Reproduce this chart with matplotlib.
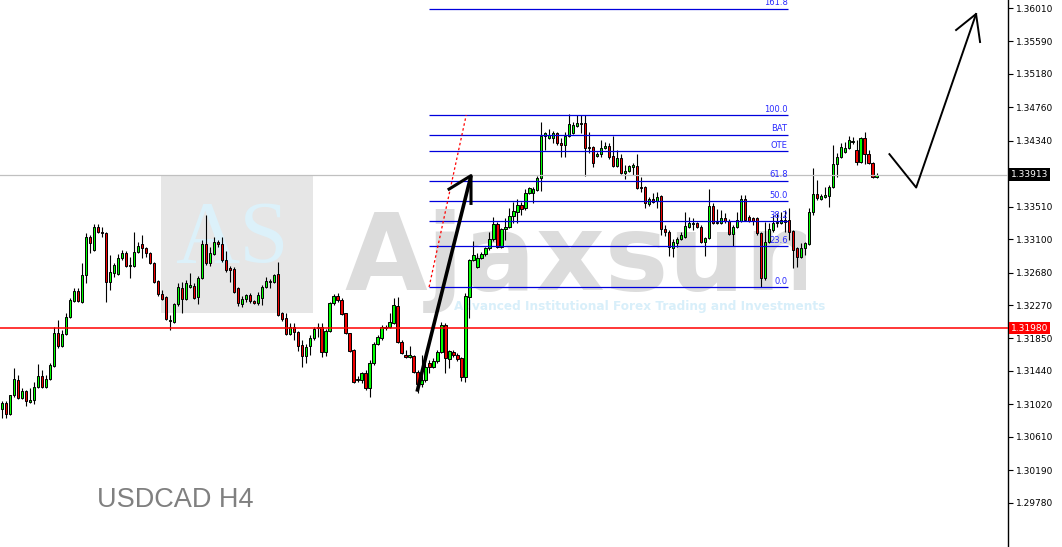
import numpy as np
import matplotlib.pyplot as plt
from matplotlib.patches import Rectangle
from matplotlib.transforms import Bbox, TransformedBbox, blended_transform_factory

# USDCAD H4 candles
opens = [1.3096, 1.3104, 1.3090, 1.3114, 1.3133, 1.3110, 1.3119, 1.3105, 1.3108, 1.3124,
         1.3138, 1.3124, 1.3134, 1.3150, 1.3192, 1.3176, 1.3191, 1.3212, 1.3232, 1.3245,
         1.3231, 1.3265, 1.3313, 1.3296, 1.3325, 1.3319, 1.3318, 1.3256, 1.3267, 1.3266,
         1.3286, 1.3293, 1.3276, 1.3276, 1.3294, 1.3304, 1.3299, 1.3293, 1.3280, 1.3257,
         1.3241, 1.3237, 1.3207, 1.3206, 1.3228, 1.3249, 1.3235, 1.3250, 1.3251, 1.3237,
         1.3261, 1.3304, 1.3280, 1.3291, 1.3306, 1.3304, 1.3284, 1.3274, 1.3273, 1.3249,
         1.3228, 1.3235, 1.3240, 1.3232, 1.3230, 1.3236, 1.3250, 1.3256, 1.3256, 1.3266,
         1.3217, 1.3211, 1.3191, 1.3199, 1.3193, 1.3177, 1.3163, 1.3176, 1.3186, 1.3198,
         1.3199, 1.3168, 1.3194, 1.3230, 1.3238, 1.3233, 1.3217, 1.3192, 1.3170, 1.3133,
         1.3133, 1.3142, 1.3123, 1.3154, 1.3178, 1.3186, 1.3198, 1.3199, 1.3204, 1.3226,
         1.3181, 1.3164, 1.3162, 1.3163, 1.3143, 1.3127, 1.3133, 1.3154, 1.3149, 1.3157,
         1.3168, 1.3202, 1.3159, 1.3168, 1.3164, 1.3160, 1.3137, 1.3237, 1.3284, 1.3275,
         1.3286, 1.3291, 1.3299, 1.3310, 1.3329, 1.3300, 1.3323, 1.3325, 1.3339, 1.3344,
         1.3353, 1.3349, 1.3368, 1.3368, 1.3372, 1.3387, 1.3440, 1.3437, 1.3437, 1.3444,
         1.3431, 1.3429, 1.3440, 1.3444, 1.3452, 1.3455, 1.3456, 1.3425, 1.3426, 1.3415,
         1.3417, 1.3425, 1.3427, 1.3415, 1.3402, 1.3412, 1.3393, 1.3396, 1.3401, 1.3402,
         1.3376, 1.3376, 1.3354, 1.3361, 1.3358, 1.3364, 1.3323, 1.3319, 1.3299, 1.3305,
         1.3310, 1.3313, 1.3325, 1.3329, 1.3330, 1.3325, 1.3306, 1.3312, 1.3352, 1.3330,
         1.3330, 1.3337, 1.3333, 1.3317, 1.3325, 1.3333, 1.3361, 1.3338, 1.3337, 1.3337,
         1.3318, 1.3261, 1.3306, 1.3322, 1.3330, 1.3330, 1.3332, 1.3334, 1.3320, 1.3299,
         1.3288, 1.3299, 1.3304, 1.3344, 1.3367, 1.3361, 1.3363, 1.3364, 1.3376, 1.3405,
         1.3413, 1.3420, 1.3425, 1.3432, 1.3422, 1.3407, 1.3437, 1.3417, 1.3406, 1.3388]
highs = [1.3106, 1.3106, 1.3114, 1.3148, 1.3139, 1.3122, 1.3120, 1.3123, 1.3130, 1.3153,
         1.3145, 1.3139, 1.3154, 1.3199, 1.3208, 1.3196, 1.3217, 1.3236, 1.3249, 1.3249,
         1.3280, 1.3318, 1.3315, 1.3329, 1.3329, 1.3325, 1.3319, 1.3290, 1.3280, 1.3291,
         1.3296, 1.3295, 1.3288, 1.3319, 1.3306, 1.3315, 1.3300, 1.3294, 1.3281, 1.3259,
         1.3246, 1.3238, 1.3215, 1.3230, 1.3255, 1.3256, 1.3259, 1.3267, 1.3255, 1.3264,
         1.3309, 1.3340, 1.3300, 1.3313, 1.3309, 1.3313, 1.3295, 1.3276, 1.3275, 1.3250,
         1.3238, 1.3241, 1.3242, 1.3233, 1.3243, 1.3252, 1.3262, 1.3260, 1.3266, 1.3281,
         1.3218, 1.3217, 1.3204, 1.3204, 1.3194, 1.3183, 1.3178, 1.3189, 1.3199, 1.3204,
         1.3204, 1.3197, 1.3231, 1.3241, 1.3242, 1.3236, 1.3217, 1.3192, 1.3172, 1.3138,
         1.3143, 1.3145, 1.3158, 1.3181, 1.3189, 1.3202, 1.3202, 1.3217, 1.3236, 1.3237,
         1.3183, 1.3170, 1.3176, 1.3164, 1.3145, 1.3164, 1.3162, 1.3158, 1.3160, 1.3170,
         1.3206, 1.3204, 1.3170, 1.3170, 1.3167, 1.3162, 1.3242, 1.3285, 1.3308, 1.3293,
         1.3294, 1.3300, 1.3319, 1.3338, 1.3332, 1.3324, 1.3337, 1.3349, 1.3357, 1.3361,
         1.3357, 1.3373, 1.3376, 1.3376, 1.3390, 1.3457, 1.3445, 1.3449, 1.3446, 1.3445,
         1.3437, 1.3445, 1.3468, 1.3457, 1.3466, 1.3466, 1.3466, 1.3445, 1.3427, 1.3420,
         1.3435, 1.3432, 1.3431, 1.3440, 1.3422, 1.3417, 1.3403, 1.3403, 1.3406, 1.3417,
         1.3388, 1.3377, 1.3363, 1.3368, 1.3369, 1.3366, 1.3328, 1.3322, 1.3310, 1.3313,
         1.3319, 1.3344, 1.3338, 1.3337, 1.3332, 1.3328, 1.3313, 1.3373, 1.3355, 1.3348,
         1.3347, 1.3343, 1.3335, 1.3328, 1.3344, 1.3366, 1.3366, 1.3340, 1.3338, 1.3338,
         1.3319, 1.3332, 1.3330, 1.3340, 1.3343, 1.3344, 1.3347, 1.3349, 1.3322, 1.3300,
         1.3305, 1.3306, 1.3349, 1.3400, 1.3385, 1.3367, 1.3376, 1.3378, 1.3429, 1.3418,
         1.3431, 1.3432, 1.3440, 1.3439, 1.3435, 1.3439, 1.3445, 1.3422, 1.3407, 1.3393]
lows = [1.3085, 1.3085, 1.3088, 1.3111, 1.3109, 1.3109, 1.3100, 1.3104, 1.3103, 1.3122,
        1.3123, 1.3123, 1.3133, 1.3149, 1.3173, 1.3174, 1.3189, 1.3211, 1.3231, 1.3231,
        1.3230, 1.3255, 1.3293, 1.3295, 1.3318, 1.3313, 1.3231, 1.3246, 1.3262, 1.3265,
        1.3284, 1.3275, 1.3261, 1.3275, 1.3293, 1.3286, 1.3288, 1.3279, 1.3255, 1.3238,
        1.3233, 1.3208, 1.3196, 1.3204, 1.3226, 1.3217, 1.3233, 1.3249, 1.3235, 1.3228,
        1.3260, 1.3278, 1.3276, 1.3290, 1.3300, 1.3281, 1.3269, 1.3256, 1.3242, 1.3226,
        1.3225, 1.3231, 1.3230, 1.3228, 1.3227, 1.3227, 1.3249, 1.3249, 1.3255, 1.3213,
        1.3207, 1.3189, 1.3189, 1.3183, 1.3169, 1.3149, 1.3154, 1.3164, 1.3183, 1.3187,
        1.3162, 1.3163, 1.3193, 1.3227, 1.3231, 1.3215, 1.3191, 1.3168, 1.3129, 1.3130,
        1.3129, 1.3120, 1.3111, 1.3152, 1.3177, 1.3183, 1.3196, 1.3198, 1.3203, 1.3179,
        1.3165, 1.3160, 1.3160, 1.3142, 1.3116, 1.3124, 1.3130, 1.3142, 1.3148, 1.3154,
        1.3167, 1.3142, 1.3148, 1.3162, 1.3157, 1.3132, 1.3130, 1.3211, 1.3283, 1.3274,
        1.3285, 1.3289, 1.3296, 1.3308, 1.3299, 1.3299, 1.3309, 1.3324, 1.3330, 1.3330,
        1.3340, 1.3347, 1.3367, 1.3355, 1.3371, 1.3371, 1.3422, 1.3436, 1.3431, 1.3429,
        1.3413, 1.3413, 1.3439, 1.3442, 1.3451, 1.3444, 1.3390, 1.3418, 1.3401, 1.3413,
        1.3413, 1.3424, 1.3411, 1.3401, 1.3401, 1.3392, 1.3386, 1.3394, 1.3391, 1.3373,
        1.3369, 1.3349, 1.3352, 1.3355, 1.3349, 1.3315, 1.3314, 1.3289, 1.3288, 1.3300,
        1.3309, 1.3312, 1.3324, 1.3322, 1.3324, 1.3305, 1.3289, 1.3310, 1.3329, 1.3329,
        1.3329, 1.3330, 1.3315, 1.3301, 1.3324, 1.3332, 1.3333, 1.3332, 1.3328, 1.3315,
        1.3250, 1.3259, 1.3305, 1.3319, 1.3325, 1.3329, 1.3319, 1.3309, 1.3274, 1.3275,
        1.3286, 1.3290, 1.3303, 1.3340, 1.3359, 1.3359, 1.3362, 1.3350, 1.3375, 1.3388,
        1.3412, 1.3418, 1.3424, 1.3430, 1.3403, 1.3406, 1.3405, 1.3405, 1.3387, 1.3387]
closes = [1.3104, 1.3090, 1.3114, 1.3134, 1.3110, 1.3119, 1.3106, 1.3108, 1.3124, 1.3138,
          1.3124, 1.3134, 1.3152, 1.3192, 1.3176, 1.3191, 1.3212, 1.3233, 1.3245, 1.3232,
          1.3265, 1.3313, 1.3305, 1.3325, 1.3319, 1.3318, 1.3256, 1.3269, 1.3278, 1.3286,
          1.3293, 1.3276, 1.3278, 1.3294, 1.3301, 1.3299, 1.3293, 1.3280, 1.3256, 1.3241,
          1.3235, 1.3210, 1.3208, 1.3228, 1.3250, 1.3235, 1.3255, 1.3252, 1.3236, 1.3261,
          1.3304, 1.3280, 1.3293, 1.3306, 1.3304, 1.3284, 1.3271, 1.3271, 1.3243, 1.3230,
          1.3235, 1.3240, 1.3232, 1.3230, 1.3240, 1.3250, 1.3257, 1.3257, 1.3265, 1.3215,
          1.3210, 1.3191, 1.3199, 1.3193, 1.3176, 1.3163, 1.3174, 1.3186, 1.3197, 1.3199,
          1.3168, 1.3194, 1.3230, 1.3238, 1.3233, 1.3216, 1.3192, 1.3169, 1.3130, 1.3134,
          1.3142, 1.3123, 1.3154, 1.3178, 1.3187, 1.3199, 1.3199, 1.3206, 1.3227, 1.3181,
          1.3167, 1.3162, 1.3164, 1.3143, 1.3127, 1.3133, 1.3149, 1.3149, 1.3157, 1.3168,
          1.3202, 1.3160, 1.3169, 1.3164, 1.3159, 1.3137, 1.3238, 1.3284, 1.3290, 1.3286,
          1.3291, 1.3299, 1.3310, 1.3329, 1.3300, 1.3323, 1.3325, 1.3339, 1.3345, 1.3353,
          1.3348, 1.3368, 1.3375, 1.3373, 1.3387, 1.3440, 1.3444, 1.3441, 1.3444, 1.3431,
          1.3429, 1.3440, 1.3455, 1.3454, 1.3456, 1.3456, 1.3425, 1.3426, 1.3406, 1.3417,
          1.3425, 1.3427, 1.3413, 1.3402, 1.3412, 1.3393, 1.3396, 1.3402, 1.3403, 1.3375,
          1.3375, 1.3355, 1.3361, 1.3357, 1.3363, 1.3323, 1.3319, 1.3300, 1.3306, 1.3310,
          1.3315, 1.3327, 1.3330, 1.3330, 1.3325, 1.3306, 1.3312, 1.3352, 1.3330, 1.3332,
          1.3337, 1.3333, 1.3317, 1.3325, 1.3334, 1.3361, 1.3334, 1.3333, 1.3333, 1.3318,
          1.3261, 1.3306, 1.3323, 1.3330, 1.3332, 1.3334, 1.3334, 1.3319, 1.3296, 1.3288,
          1.3299, 1.3305, 1.3344, 1.3367, 1.3362, 1.3364, 1.3366, 1.3376, 1.3405, 1.3413,
          1.3426, 1.3425, 1.3435, 1.3434, 1.3407, 1.3437, 1.3417, 1.3406, 1.3388, 1.33913]

price_ticks = [1.36010, 1.35590, 1.35180, 1.34760, 1.34340, 1.33510, 1.33100, 1.32680,
               1.32270, 1.31850, 1.31440, 1.31020, 1.30610, 1.30190, 1.29780]
current_price = 1.33913
red_level = 1.31980

# fibonacci drawn from the swing low to the swing high
fib_low = 1.32497
fib_high = 1.34663
fib_ratios = [0.0, 0.236, 0.382, 0.5, 0.618, 0.79, 0.886, 1.0, 1.618]
fib_labels = ['0.0', '23.6', '38.2', '50.0', '61.8', 'OTE', 'BAT', '100.0', '161.8']
fib_x = [106.9, 196.7]
fib_trend_x = [106.9, 116.2]

# hand drawn arrows (bar index, price)
arrow1_x = [103.9, 117.4]
arrow1_y = [1.3118, 1.3390]
arrow1_head_x = [111.9, 117.4, 117.4]
arrow1_head_y = [1.3373, 1.3390, 1.3355]
arrow2_x = [222.2, 228.9, 243.9]
arrow2_y = [1.3417, 1.3375, 1.35935]
arrow2_head_x = [238.9, 243.9, 244.9]
arrow2_head_y = [1.35733, 1.35935, 1.35582]

W, H = 1062, 547
fig = plt.figure(figsize=(W / 100, H / 100), dpi=100)
ax = fig.add_axes([0, 0, 1008 / W, 1])
ax.set_xlim(-0.575, 251.9)
ax.set_ylim(1.29224, 1.36111)

# watermark
ax.add_patch(Rectangle((39.7, 1.3217), 38.2, 1.3390 - 1.3217, facecolor='#e6e6e6',
                       edgecolor='none', zorder=0))
ax.text(57.4, 1.3308, 'AS', family='Liberation Serif', fontsize=64, color='#dcf1fa',
        ha='center', va='center', zorder=0.5)
t = ax.text(85.7, 1.3246, 'Ajaxsun', fontsize=77, fontweight='bold', color='#dcdcdc',
            ha='left', va='baseline', zorder=0.6)
t.set_clip_box(TransformedBbox(Bbox([[0, 0], [806 / W, 1]]), fig.transFigure))
t.set_clip_on(True)
ax.text(113.2, 1.3225, 'Advanced Institutional Forex Trading and Investments', fontsize=8.7,
        fontweight='bold', color='#d8effa', ha='left', va='center', zorder=0.7)

# candles
x = np.arange(len(closes))
o = np.array(opens)
c = np.array(closes)
up = c >= o
ax.vlines(x, lows, highs, color='black', linewidth=0.8, zorder=3)
ax.bar(x, np.abs(c - o), bottom=np.minimum(o, c), width=0.6,
       color=np.where(up, '#00ff00', '#ee0000'), edgecolor='black', linewidth=0.7, zorder=3.5)

# horizontal lines
ax.axhline(current_price, color='#c0c0c0', linewidth=0.9, zorder=4)
ax.axhline(red_level, color='#ff0000', linewidth=1.1, zorder=4)

rng = fib_high - fib_low
for r, lab in zip(fib_ratios, fib_labels):
    lvl = fib_low + r * rng
    ax.hlines(lvl, fib_x[0], fib_x[1], color='#0000dd', linewidth=0.9, zorder=4)
    ax.text(fib_x[1], lvl + 0.00016, lab, fontsize=6, color='#2a2aff', ha='right',
            va='bottom', zorder=6)
ax.plot(fib_trend_x, [fib_low, fib_high], color='#ff0000', linestyle=(0, (2, 2)),
        linewidth=0.9, zorder=4)

# arrows
ax.plot(arrow1_x, arrow1_y, color='black', linewidth=2.6, solid_capstyle='butt', zorder=5)
ax.plot(arrow1_head_x, arrow1_head_y, color='black', linewidth=2.2, zorder=5)
ax.plot(arrow2_x, arrow2_y, color='black', linewidth=1.4, zorder=5)
ax.plot(arrow2_head_x, arrow2_head_y, color='black', linewidth=1.4, zorder=5)

# right price axis
for s in ['left', 'top', 'bottom']:
    ax.spines[s].set_visible(False)
ax.spines['right'].set_linewidth(1.0)
ax.set_xticks([])
ax.yaxis.tick_right()
ax.set_yticks(price_ticks)
ax.set_yticklabels(['%.5f' % p for p in price_ticks])
ax.tick_params(axis='y', direction='out', length=3.5, width=0.8, pad=2, labelsize=6.5)

tr = blended_transform_factory(ax.transAxes, ax.transData)
ax.text(1.003, current_price, '%.5f' % current_price, transform=tr, fontsize=6.5,
        color='white', ha='left', va='center',
        bbox=dict(boxstyle='square,pad=0.2', facecolor='black', edgecolor='none'))
ax.text(1.003, red_level, '%.5f' % red_level, transform=tr, fontsize=6.5,
        color='white', ha='left', va='center',
        bbox=dict(boxstyle='square,pad=0.2', facecolor='#ff0000', edgecolor='none'))

fig.text(97 / W, 1 - 507 / H, 'USDCAD H4', family='Liberation Sans', fontsize=19.5,
         color='#808080', ha='left', va='baseline')

fig.savefig('out.png', dpi=100)
